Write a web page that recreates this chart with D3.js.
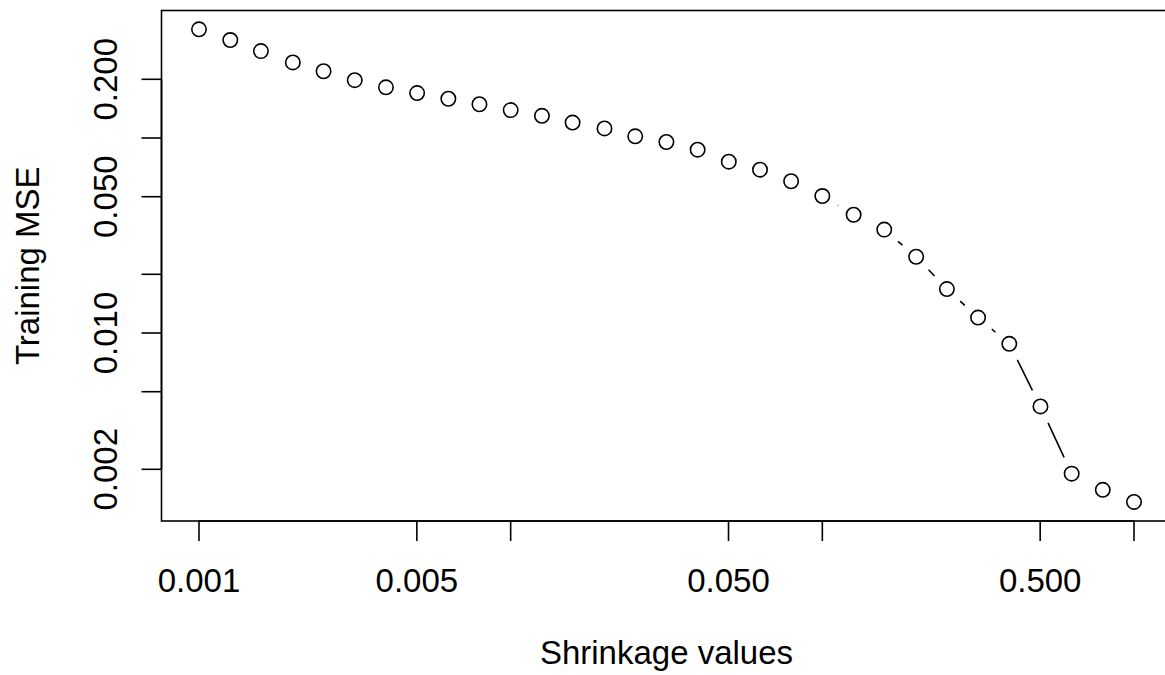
<!DOCTYPE html>
<html>
<head>
<meta charset="utf-8">
<script src="https://cdn.jsdelivr.net/npm/d3@7"></script>
<style>
  html, body { margin: 0; padding: 0; background: #fff; }
  svg { display: block; }
  text { font-family: "Liberation Sans", Arial, Helvetica, sans-serif; fill: #000; }
</style>
</head>
<body>
<svg id="chart" width="1165" height="675"></svg>
<script>
// Shrinkage values (x) and training MSE (y)
const shrinkage = [0.001, 0.00126, 0.00158, 0.002, 0.00251, 0.00316, 0.00398, 0.00501, 0.00631, 0.00794,
                   0.01, 0.0126, 0.0158, 0.02, 0.0251, 0.0316, 0.0398, 0.0501, 0.0631, 0.0794,
                   0.1, 0.126, 0.158, 0.2, 0.251, 0.316, 0.398, 0.501, 0.631, 0.794, 1];
const trainMSE = [0.361, 0.318, 0.279, 0.244, 0.220, 0.198, 0.182, 0.170, 0.159, 0.149,
                  0.139, 0.130, 0.120, 0.112, 0.102, 0.0954, 0.0871, 0.0756, 0.0688, 0.0600,
                  0.0504, 0.0404, 0.0339, 0.0246, 0.0168, 0.0120, 0.0088, 0.0042, 0.0019, 0.00157, 0.00136];

const xTicks = [0.001, 0.005, 0.01, 0.05, 0.1, 0.5, 1];
const xTickLabels = ["0.001", "0.005", "", "0.050", "", "0.500", ""];
const yTicks = [0.002, 0.005, 0.01, 0.02, 0.05, 0.1, 0.2];
const yTickLabels = ["0.002", "", "0.010", "", "0.050", "", "0.200"];

const xTitle = "Shrinkage values";
const yTitle = "Training MSE";

const svg = d3.select("#chart");

// Plot region (R-style with 4% extension)
const box = { left: 161.5, right: 1171.5, top: 10.5, bottom: 521 };

const x = d3.scaleLog().domain([0.001, 1]).range([199, 1134]);
const y = d3.scaleLog().domain([0.002, 0.2]).range([469.3, 79.3]);

const fontSize = 33;
const lw = 1.6;

// Box
svg.append("rect")
  .attr("x", box.left).attr("y", box.top)
  .attr("width", box.right - box.left).attr("height", box.bottom - box.top)
  .attr("fill", "none").attr("stroke", "#000").attr("stroke-width", lw);

// X axis (R-style: axis line spans ticks)
const xAxisG = svg.append("g").attr("transform", `translate(0,${box.bottom})`);
xAxisG.append("line")
  .attr("x1", x(xTicks[0])).attr("x2", x(xTicks[xTicks.length - 1]))
  .attr("y1", 0).attr("y2", 0).attr("stroke", "#000").attr("stroke-width", lw);
xAxisG.selectAll("line.tick").data(xTicks).join("line")
  .attr("class", "tick")
  .attr("x1", d => x(d)).attr("x2", d => x(d))
  .attr("y1", 0).attr("y2", 20)
  .attr("stroke", "#000").attr("stroke-width", lw);
xAxisG.selectAll("text").data(xTicks).join("text")
  .attr("x", d => x(d)).attr("y", 70.5)
  .attr("text-anchor", "middle")
  .attr("font-size", fontSize)
  .text((d, i) => xTickLabels[i]);

// Y axis
const yAxisG = svg.append("g").attr("transform", `translate(${box.left},0)`);
yAxisG.append("line")
  .attr("x1", 0).attr("x2", 0)
  .attr("y1", y(yTicks[0])).attr("y2", y(yTicks[yTicks.length - 1]))
  .attr("stroke", "#000").attr("stroke-width", lw);
yAxisG.selectAll("line.tick").data(yTicks).join("line")
  .attr("class", "tick")
  .attr("x1", 0).attr("x2", -20)
  .attr("y1", d => y(d)).attr("y2", d => y(d))
  .attr("stroke", "#000").attr("stroke-width", lw);
yAxisG.selectAll("text").data(yTicks).join("text")
  .attr("transform", d => `translate(${116.5 - box.left},${y(d)}) rotate(-90)`)
  .attr("text-anchor", "middle")
  .attr("font-size", fontSize)
  .text((d, i) => yTickLabels[i]);

// Titles
svg.append("text")
  .attr("x", (box.left + box.right) / 2).attr("y", 664)
  .attr("text-anchor", "middle").attr("font-size", fontSize)
  .text(xTitle);
svg.append("text")
  .attr("transform", `translate(39,${(box.top + box.bottom) / 2}) rotate(-90)`)
  .attr("text-anchor", "middle").attr("font-size", fontSize)
  .text(yTitle);

// Data points
const pts = shrinkage.map((s, i) => ({ px: x(s), py: y(trainMSE[i]) }));

// type="b" line segments with gaps around points
const gap = 18;
const segs = [];
for (let i = 0; i < pts.length - 1; i++) {
  const a = pts[i], b = pts[i + 1];
  const dx = b.px - a.px, dy = b.py - a.py;
  const len = Math.hypot(dx, dy);
  if (len > 2 * gap) {
    const ux = dx / len, uy = dy / len;
    segs.push({ x1: a.px + ux * gap, y1: a.py + uy * gap, x2: b.px - ux * gap, y2: b.py - uy * gap });
  }
}
svg.append("g").selectAll("line").data(segs).join("line")
  .attr("x1", d => d.x1).attr("y1", d => d.y1)
  .attr("x2", d => d.x2).attr("y2", d => d.y2)
  .attr("stroke", "#000").attr("stroke-width", lw);

svg.append("g").selectAll("circle").data(pts).join("circle")
  .attr("cx", d => d.px).attr("cy", d => d.py)
  .attr("r", 7.2)
  .attr("fill", "none").attr("stroke", "#000").attr("stroke-width", lw);
</script>
</body>
</html>
